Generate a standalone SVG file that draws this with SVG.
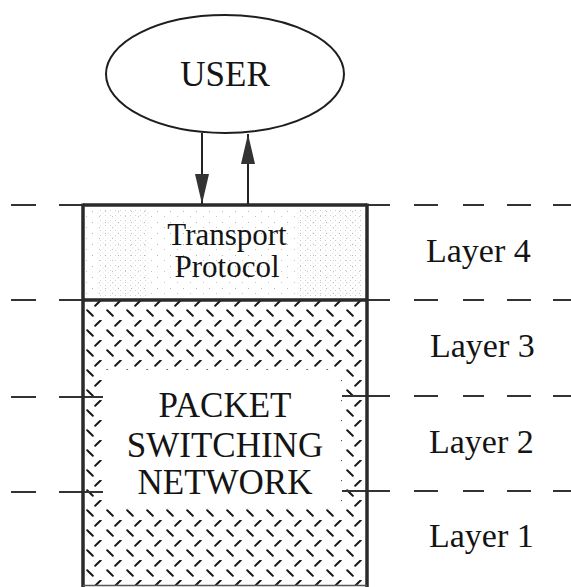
<svg xmlns="http://www.w3.org/2000/svg" width="571" height="587" viewBox="0 0 571 587">
  <style>
    text { font-family: "Liberation Serif", "Times New Roman", Times, "DejaVu Serif", serif; fill: #141414; }
    .layer { font-size: 34px; }
    .dash { stroke: #333333; stroke-width: 2.2; fill: none; }
    .wire { stroke: #222222; stroke-width: 2; fill: none; }
    .frame { stroke: #2a2a2a; stroke-width: 3.5; fill: none; }
  </style>
  <defs>
    <!-- diamond lattice of short strokes for the network block -->
    <pattern id="hatch" patternUnits="userSpaceOnUse" x="83" y="300" width="20" height="20">
      <path d="M4.2 10.2 L9.8 15.8 M12.2 5.8 L17.8 0.2" stroke="#181818" stroke-width="2" stroke-linecap="round"/>
    </pattern>
    <!-- dense stipple -->
    <pattern id="stippleDense" patternUnits="userSpaceOnUse" width="5" height="5">
      <rect x="0" y="0" width="1" height="1" fill="#8a8a8a"/>
      <rect x="2.5" y="2.5" width="1" height="1" fill="#b0b0b0"/>
    </pattern>
    <!-- sparse stipple -->
    <pattern id="stippleSparse" patternUnits="userSpaceOnUse" width="13" height="11">
      <rect x="1" y="2" width="1" height="1" fill="#b4b4b4"/>
      <rect x="8" y="7" width="1" height="1" fill="#c4c4c4"/>
    </pattern>
    <marker id="head" viewBox="0 0 30 14" refX="30" refY="7" markerWidth="30" markerHeight="14" markerUnits="userSpaceOnUse" orient="auto">
      <path d="M0 0 L30 7 L0 14 Z" fill="#333333"/>
    </marker>
  </defs>

  <rect width="571" height="587" fill="#ffffff"/>

  <!-- layer boundary dashes -->
  <g id="boundaries">
    <path class="dash" d="M11 205 H36 M59 205 H83 M367 205 H390 M414 205 H438 M463 205 H484 M507 205 H531 M553 205 H571"/>
    <path class="dash" d="M11 300 H36 M59 300 H83 M367 300 H390 M414 300 H438 M463 300 H484 M507 300 H531 M553 300 H571"/>
    <path class="dash" d="M11 397 H36 M59 397 H83 M367 396 H390 M414 396 H438 M463 396 H484 M507 396 H531 M553 396 H571"/>
    <path class="dash" d="M11 492 H36 M59 492 H83 M367 491 H390 M414 491 H438 M463 491 H484 M507 491 H531 M553 491 H571"/>
  </g>

  <g id="user">
    <ellipse cx="225" cy="74" rx="119" ry="59" fill="#ffffff" stroke="#1e1e1e" stroke-width="2"/>
    <text x="225" y="86" font-size="35" text-anchor="middle">USER</text>
  </g>

  <g id="transport">
    <rect x="83" y="205" width="284" height="95" fill="#ffffff"/>
    <rect x="85" y="207" width="280" height="91" fill="url(#stippleSparse)"/>
    <rect x="96" y="210" width="54" height="86" fill="url(#stippleDense)" opacity="0.4"/>
    <rect x="296" y="210" width="66" height="86" fill="url(#stippleDense)" opacity="0.45"/>
    <text x="227" y="245" font-size="31" text-anchor="middle">Transport</text>
    <text x="227" y="277" font-size="31" text-anchor="middle">Protocol</text>
  </g>

  <g id="network">
    <rect x="83" y="300" width="284" height="286" fill="url(#hatch)"/>
    <rect x="104" y="370" width="237" height="137" fill="#ffffff"/>
    <path class="dash" d="M83 397 H103 M342 396 H367 M83 492 H103 M342 491 H367"/>
    <text x="225" y="417" font-size="35" text-anchor="middle">PACKET</text>
    <text x="225" y="457" font-size="35" text-anchor="middle">SWITCHING</text>
    <text x="225" y="494" font-size="35" text-anchor="middle">NETWORK</text>
  </g>

  <!-- outline of the stacked protocol column -->
  <g id="column">
    <path class="frame" d="M83 205 H367 M83 300 H367"/>
    <path class="frame" d="M83 203.5 V587 M367 203.5 V587"/>
    <path d="M83 585.5 H367" stroke="#555" stroke-width="1.5"/>
  </g>

  <g id="layer-labels">
    <text class="layer" x="426" y="262">Layer 4</text>
    <text class="layer" x="430" y="357">Layer 3</text>
    <text class="layer" x="429" y="453">Layer 2</text>
    <text class="layer" x="429" y="547">Layer 1</text>
  </g>

  <g id="connectors">
    <path class="wire" d="M202 133 V204" marker-end="url(#head)"/>
    <path class="wire" d="M248 204 V134" marker-end="url(#head)"/>
  </g>
</svg>
